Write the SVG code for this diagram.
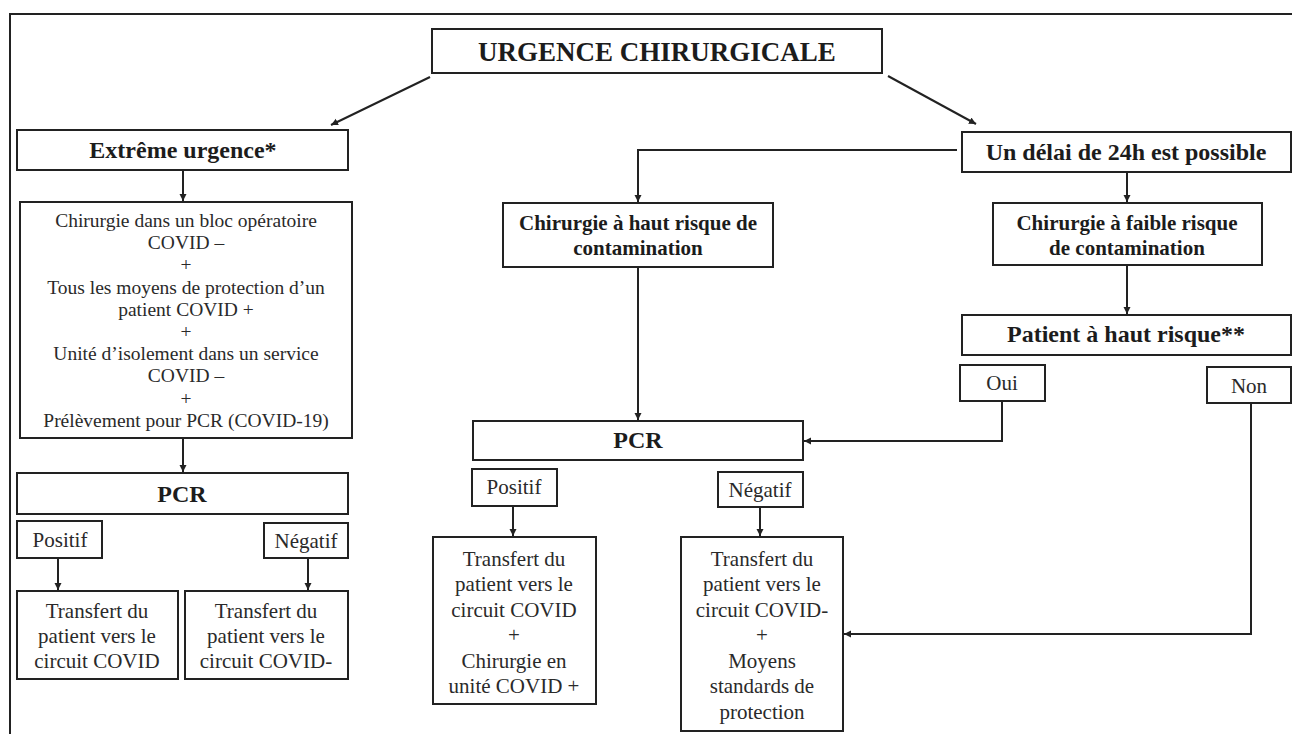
<svg xmlns="http://www.w3.org/2000/svg" width="1292" height="734" viewBox="0 0 1292 734">
<defs>
<style>
.box{fill:#fff;stroke:#222;stroke-width:2}
.ln{fill:none;stroke:#222;stroke-width:2}
text{fill:#1c1c1c;text-anchor:middle}
.b{font-weight:bold}
.h1{font-size:27px}
.h2{font-size:24px}
.h3{font-size:21px}
.r{font-size:21px;fill:#2a2a2a}
.s{font-size:19.5px;fill:#2a2a2a}
</style>
<marker id="arr" markerUnits="userSpaceOnUse" markerWidth="10" markerHeight="10" refX="7" refY="3.5" orient="auto">
<path d="M0,0 L7,3.5 L0,7 Z" fill="#222"/>
</marker>
</defs>
<rect width="1292" height="734" fill="#fff"/>
<path d="M10,734 V14 H1292" fill="none" stroke="#222" stroke-width="2"/>

<g id="connectors">
<line class="ln" x1="430" y1="77" x2="331" y2="125" marker-end="url(#arr)"/>
<line class="ln" x1="888" y1="76" x2="976" y2="124" marker-end="url(#arr)"/>
<line class="ln" x1="183" y1="170" x2="183" y2="201" marker-end="url(#arr)"/>
<line class="ln" x1="183" y1="438" x2="183" y2="472" marker-end="url(#arr)"/>
<line class="ln" x1="58" y1="558" x2="58" y2="590" marker-end="url(#arr)"/>
<line class="ln" x1="308" y1="558" x2="308" y2="590" marker-end="url(#arr)"/>
<polyline class="ln" points="957,150 638,150 638,202" marker-end="url(#arr)"/>
<line class="ln" x1="1127" y1="172" x2="1127" y2="202" marker-end="url(#arr)"/>
<line class="ln" x1="1127" y1="265" x2="1127" y2="314" marker-end="url(#arr)"/>
<line class="ln" x1="638" y1="267" x2="638" y2="420" marker-end="url(#arr)"/>
<polyline class="ln" points="1002,401 1002,441 804,441" marker-end="url(#arr)"/>
<polyline class="ln" points="1251,403 1251,634 844,634" marker-end="url(#arr)"/>
<line class="ln" x1="513" y1="506" x2="513" y2="536" marker-end="url(#arr)"/>
<line class="ln" x1="760" y1="507" x2="760" y2="536" marker-end="url(#arr)"/>
</g>

<g font-family="'Liberation Serif', 'DejaVu Serif', serif">
<g id="urgence">
<rect class="box" x="432" y="29" width="450" height="44"/>
<text class="b h1" x="657" y="61">URGENCE CHIRURGICALE</text>
</g>

<g id="extreme">
<rect class="box" x="17" y="130" width="331" height="40"/>
<text class="b h2" x="183" y="158">Extrême urgence*</text>
</g>

<g id="mesures">
<rect class="box" x="20" y="202" width="332" height="236"/>
<text class="s" x="186" y="227">Chirurgie dans un bloc opératoire</text>
<text class="s" x="186" y="249">COVID –</text>
<text class="s" x="186" y="271">+</text>
<text class="s" x="186" y="294">Tous les moyens de protection d’un</text>
<text class="s" x="186" y="316">patient COVID +</text>
<text class="s" x="186" y="338">+</text>
<text class="s" x="186" y="360">Unité d’isolement dans un service</text>
<text class="s" x="186" y="382">COVID –</text>
<text class="s" x="186" y="405">+</text>
<text class="s" x="186" y="427">Prélèvement pour PCR (COVID-19)</text>
</g>

<g id="pcr-left">
<rect class="box" x="17" y="473" width="331" height="41"/>
<text class="b h2" x="182" y="502">PCR</text>
</g>

<g id="positif-left">
<rect class="box" x="17" y="521" width="85" height="37"/>
<text class="r" x="60" y="547">Positif</text>
</g>

<g id="negatif-left">
<rect class="box" x="264" y="523" width="84" height="35"/>
<text class="r" x="306" y="548">Négatif</text>
</g>

<g id="transfert-pos-left">
<rect class="box" x="17" y="591" width="161" height="88"/>
<text class="r" x="97" y="618">Transfert du</text>
<text class="r" x="97" y="643">patient vers le</text>
<text class="r" x="97" y="668">circuit COVID</text>
</g>

<g id="transfert-neg-left">
<rect class="box" x="185" y="591" width="163" height="88"/>
<text class="r" x="266" y="618">Transfert du</text>
<text class="r" x="266" y="643">patient vers le</text>
<text class="r" x="266" y="668">circuit COVID-</text>
</g>

<g id="delai">
<rect class="box" x="962" y="132" width="329" height="40"/>
<text class="b h2" x="1126" y="160">Un délai de 24h est possible</text>
</g>

<g id="haut-risque">
<rect class="box" x="503" y="203" width="270" height="64"/>
<text class="b h3" x="638" y="230">Chirurgie à haut risque de</text>
<text class="b h3" x="638" y="255">contamination</text>
</g>

<g id="faible-risque">
<rect class="box" x="993" y="203" width="269" height="62"/>
<text class="b h3" x="1127" y="230">Chirurgie à faible risque</text>
<text class="b h3" x="1127" y="255">de contamination</text>
</g>

<g id="patient-risque">
<rect class="box" x="962" y="315" width="329" height="40"/>
<text class="b h2" x="1126" y="342">Patient à haut risque**</text>
</g>

<g id="oui">
<rect class="box" x="960" y="365" width="85" height="36"/>
<text class="r" x="1002" y="390">Oui</text>
</g>

<g id="non">
<rect class="box" x="1207" y="367" width="84" height="36"/>
<text class="r" x="1249" y="393">Non</text>
</g>

<g id="pcr-mid">
<rect class="box" x="473" y="421" width="330" height="39"/>
<text class="b h2" x="638" y="448">PCR</text>
</g>

<g id="positif-mid">
<rect class="box" x="472" y="469" width="85" height="37"/>
<text class="r" x="514" y="494">Positif</text>
</g>

<g id="negatif-mid">
<rect class="box" x="718" y="472" width="85" height="35"/>
<text class="r" x="760" y="497">Négatif</text>
</g>

<g id="transfert-pos-mid">
<rect class="box" x="433" y="537" width="163" height="167"/>
<text class="r" x="514" y="566">Transfert du</text>
<text class="r" x="514" y="591">patient vers le</text>
<text class="r" x="514" y="617">circuit COVID</text>
<text class="r" x="514" y="642">+</text>
<text class="r" x="514" y="668">Chirurgie en</text>
<text class="r" x="514" y="693">unité COVID +</text>
</g>

<g id="transfert-neg-mid">
<rect class="box" x="681" y="537" width="162" height="194"/>
<text class="r" x="762" y="566">Transfert du</text>
<text class="r" x="762" y="591">patient vers le</text>
<text class="r" x="762" y="617">circuit COVID-</text>
<text class="r" x="762" y="642">+</text>
<text class="r" x="762" y="668">Moyens</text>
<text class="r" x="762" y="693">standards de</text>
<text class="r" x="762" y="719">protection</text>
</g>
</g>
</svg>
